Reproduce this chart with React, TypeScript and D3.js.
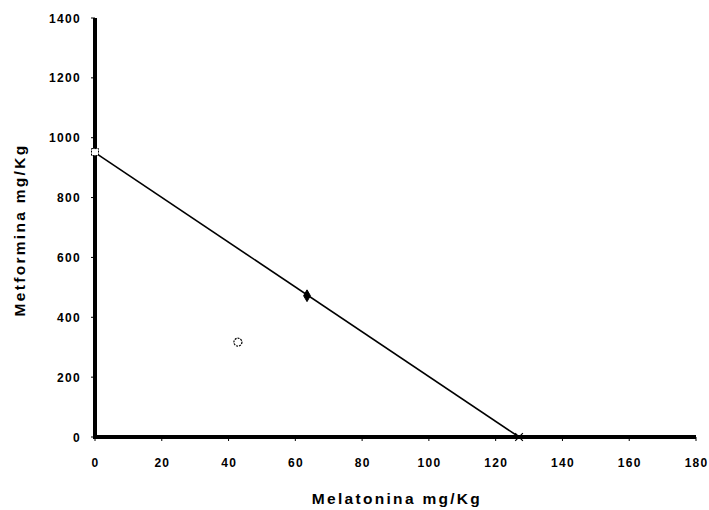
import React from "react";
import * as d3 from "d3";

const xTicks = [0, 20, 40, 60, 80, 100, 120, 140, 160, 180];
const yTicks = [0, 200, 400, 600, 800, 1000, 1200, 1400];
const lineX = [0, 127];
const lineY = [950, 0];
const pointX = [0, 63.5, 127, 42.8];
const pointY = [952, 472, 0, 317];
const pointShape = ["square", "diamond", "cross", "circle"];

const W = 709, H = 510;
const x0 = 95, x1 = 696, y0 = 437, y1 = 18;

export default function App() {
  const x = d3.scaleLinear().domain([0, 180]).range([x0, x1]);
  const y = d3.scaleLinear().domain([0, 1400]).range([y0, y1]);
  const line = d3.line<number>().x((_, i) => x(lineX[i])).y((_, i) => y(lineY[i]));
  const font = "Arial, 'Liberation Sans', sans-serif";
  return (
    <svg width={W} height={H} style={{ position: "absolute", left: 0, top: 0, background: "#fff" }}>
      {/* ticks */}
      {yTicks.map((t) => (
        <g key={"y" + t}>
          <line x1={x0 - 4} x2={x0} y1={y(t)} y2={y(t)} stroke="#000" strokeWidth={1} />
          <text x={81} y={y(t)} dy="0.38em" textAnchor="end" fontFamily={font} fontWeight="bold" fontSize={12} letterSpacing={1.3}>{t}</text>
        </g>
      ))}
      {xTicks.map((t) => (
        <g key={"x" + t}>
          <line x1={x(t)} x2={x(t)} y1={y0} y2={y0 + 4} stroke="#000" strokeWidth={1} />
          <text x={x(t) + 0.6} y={467} textAnchor="middle" fontFamily={font} fontWeight="bold" fontSize={12} letterSpacing={1.3}>{t}</text>
        </g>
      ))}
      {/* axes */}
      <line x1={x0} x2={x0} y1={y1} y2={y0 + 2} stroke="#000" strokeWidth={4} />
      <line x1={x0 - 2} x2={x1} y1={y0} y2={y0} stroke="#000" strokeWidth={4} />
      {/* regression line */}
      <path d={line(lineX) || ""} fill="none" stroke="#000" strokeWidth={1.6} />
      {/* points */}
      {pointX.map((px, i) => {
        const cx = x(px), cy = y(pointY[i]);
        const s = pointShape[i];
        if (s === "square") return <rect key={i} x={cx - 3.5} y={cy - 3.5} width={7} height={7} fill="#fff" stroke="#000" strokeWidth={1} strokeDasharray="2,1" />;
        if (s === "diamond") return <path key={i} d={d3.symbol(d3.symbolDiamond, 40)() || ""} transform={`translate(${cx},${cy})`} fill="#000" stroke="#000" />;
        if (s === "cross") return <path key={i} d={d3.symbol(d3.symbolX, 40)() || ""} transform={`translate(${cx},${cy})`} fill="none" stroke="#000" strokeWidth={1.2} />;
        return <circle key={i} cx={cx} cy={cy} r={4} fill="#fff" stroke="#000" strokeWidth={1.2} strokeDasharray="2,1" />;
      })}
      {/* titles */}
      <text x={397} y={504} textAnchor="middle" fontFamily={font} fontWeight="bold" fontSize={15.5} letterSpacing={2.3}>Melatonina mg/Kg</text>
      <text transform={`translate(25,230) rotate(-90)`} textAnchor="middle" fontFamily={font} fontWeight="bold" fontSize={15.5} letterSpacing={2.3}>Metformina mg/Kg</text>
    </svg>
  );
}
